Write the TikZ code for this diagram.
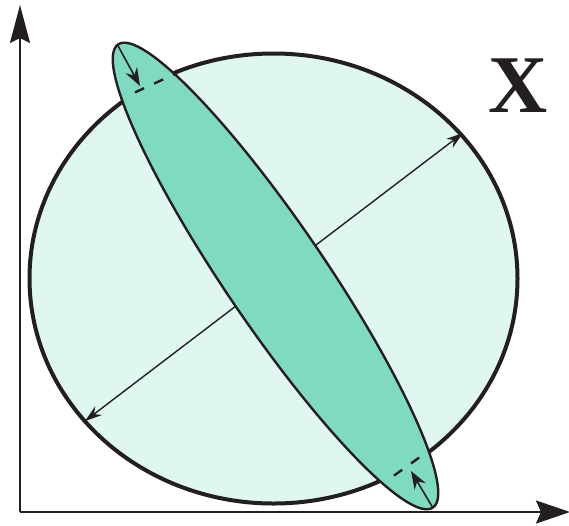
\documentclass[tikz,border=0pt]{standalone}
\usepackage{fontspec}
\setmainfont{Liberation Serif}
\usetikzlibrary{arrows.meta}
\definecolor{ink}{RGB}{35,31,32}
\definecolor{palemint}{RGB}{224,246,241}
\definecolor{mintfill}{RGB}{128,218,194}
\begin{document}
\begin{tikzpicture}[x=1pt,y=-1pt,
  bigline/.style={draw=ink,line width=4pt},
  thinline/.style={draw=ink,line width=2.4pt},
  axisline/.style={draw=ink,line width=2pt},
  dashline/.style={draw=ink,line width=2.4pt,dash pattern=on 10pt off 11pt,dash phase=10pt},
  dblarrow/.style={draw=ink,line width=1.4pt,{Stealth[length=17pt,width=11pt]}-{Stealth[length=17pt,width=11pt]}},
  smallarrow/.style={draw=ink,line width=1.6pt,-{Stealth[length=18pt,width=13pt]}},
  thinell/.style={rotate around={-55.8:(T)}}]
\useasboundingbox (0,0) rectangle (569,525);
% key points
\coordinate (O) at (20,512);
\coordinate (ytip) at (20,5);
\coordinate (xtip) at (570,512);
\coordinate (C) at (273.5,278.5);
\coordinate (T) at (275.5,276);
\coordinate (tipA) at (117,44);
\coordinate (tipB) at (433,508);
\coordinate (hitA) at (140,86);
\coordinate (hitB) at (411,471);
\coordinate (dL) at (85,421);
\coordinate (dR) at (463,133);
\coordinate (cA1) at (125,97);
\coordinate (cA2) at (177,73);
\coordinate (cB1) at (385,482);
\coordinate (cB2) at (427,452);
% axes
\draw[axisline,-{Stealth[length=38pt,width=20pt,inset=5pt]}] (O) -- (ytip);
\draw[axisline,-{Stealth[length=34pt,width=23pt,inset=5pt]}] (O) -- (xtip);
% big ellipse
\path[bigline,fill=palemint] (C) ellipse [x radius=244, y radius=225];
% double arrow
\draw[dblarrow] (dL) -- (dR);
% thin ellipse
\path[thinline,fill=mintfill,thinell] (T) ellipse [x radius=280, y radius=50];
% dashed continuation of the big ellipse inside the thin one
\draw[dashline] (cA1) -- (cA2);
\draw[dashline] (cB1) -- (cB2);
% small arrows
\draw[smallarrow] (tipA) -- (hitA);
\draw[smallarrow] (tipB) -- (hitB);
% label
\node[text=ink,font=\bfseries\fontsize{82}{82}\selectfont,inner sep=0pt] (X) at (518.5,85.5) {X};
\end{tikzpicture}
\end{document}
